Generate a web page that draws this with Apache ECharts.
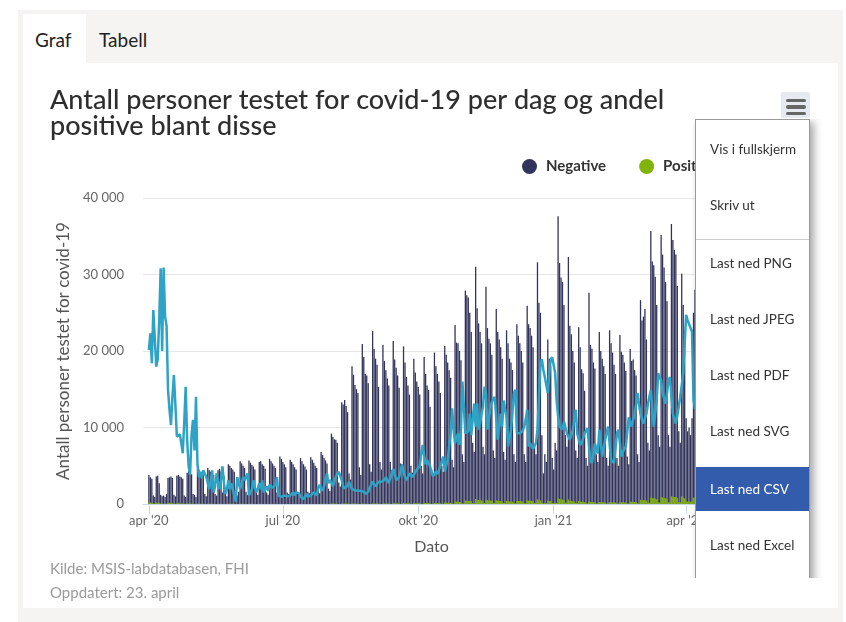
<!DOCTYPE html>
<html><head><meta charset="utf-8">
<script src="https://cdn.jsdelivr.net/npm/echarts@6/dist/echarts.min.js"></script>
<style>
html,body{margin:0;padding:0;background:#fff;width:846px;height:622px;overflow:hidden;font-family:Lato,"Noto Sans",sans-serif;}
.abs{position:absolute;}
#panel{left:18px;top:10px;width:825px;height:612px;background:#f5f4f2;}
#tab{left:23px;top:14px;width:63px;height:49px;background:#fff;}
#content{left:23px;top:63px;width:815px;height:545px;background:#fff;}
.tabtxt{font-size:19px;color:#222;top:28px;line-height:24px;}
#chart{left:0;top:0;width:846px;height:622px;z-index:1;}
.foot{left:50px;font-size:15px;color:#9a9a9a;z-index:2;line-height:20px;}
#btn{left:781px;top:92px;width:29px;height:26px;background:#e6e9f0;border-radius:2px;z-index:2;}
.bar{position:absolute;left:5px;width:20px;height:3.5px;background:#666;border-radius:2px;}
#clip{left:690px;top:119px;width:140px;height:459px;overflow:hidden;z-index:3;}
#menu{position:absolute;left:5px;top:0;width:113px;height:520px;background:#fff;border:1px solid #999;box-shadow:4px 3px 8px rgba(0,0,0,0.35);}
.item{position:absolute;left:0;width:113px;height:44px;line-height:44px;padding-left:14px;box-sizing:border-box;font-size:13.5px;color:#333;white-space:nowrap;}
.div{position:absolute;left:0;width:113px;top:119px;height:1px;background:#ccc;}
</style></head>
<body>
<div id="panel" class="abs"></div>
<div id="tab" class="abs"></div>
<div id="content" class="abs"></div>
<div class="abs tabtxt" style="left:35px">Graf</div>
<div class="abs tabtxt" style="left:99px">Tabell</div>
<div id="chart" class="abs"></div>
<div class="abs foot" style="top:558px">Kilde: MSIS-labdatabasen, FHI</div>
<div class="abs foot" style="top:582px">Oppdatert: 23. april</div>
<div id="btn" class="abs"><div class="bar" style="top:6.5px"></div><div class="bar" style="top:13px"></div><div class="bar" style="top:19.5px"></div></div>
<div id="clip" class="abs"><div id="menu">
<div class="item" style="top:7px">Vis i fullskjerm</div>
<div class="item" style="top:63px">Skriv ut</div>
<div class="div"></div>
<div class="item" style="top:121px">Last ned PNG</div>
<div class="item" style="top:177px">Last ned JPEG</div>
<div class="item" style="top:233px">Last ned PDF</div>
<div class="item" style="top:289px">Last ned SVG</div>
<div class="item" style="top:347px;background:#335cad;color:#fff">Last ned CSV</div>
<div class="item" style="top:403px">Last ned Excel</div>
</div></div>
<script>
// Day 0 = 2020-04-01 (Wednesday); one value per day up to 2021-04-22
const startDate = '2020-04-01';
const tickDays = [0, 91, 183, 275, 365];
const tickLabels = ["apr '20", "jul '20", "okt '20", "jan '21", "apr '21"];
const yTicks = [0, 10000, 20000, 30000, 40000];

const negative = [
 3800, 3500, 3300, 1100, 900,
 3600, 3700, 2700, 1200, 1000, 1100, 900,
 1300, 3400, 3500, 3600, 3400, 1200, 1000,
 3700, 3800, 3600, 3500, 3300, 1100, 900,
 4100, 4300, 4000, 3900, 1300, 1200, 900,
 4600, 4500, 4200, 4100, 3800, 1300, 1000,
 4700, 4400, 4200, 4000, 3800, 1300, 1100,
 4400, 4600, 4200, 1500, 3700, 1400, 1000,
 5200, 5000, 4700, 4500, 4200, 1500, 1100,
 1600, 5600, 5300, 5000, 4700, 1600, 1200,
 5700, 5400, 5100, 4900, 4500, 1500, 1200,
 5500, 5600, 5200, 5000, 4600, 1500, 1200,
 5900, 5600, 5300, 5000, 4700, 1500, 1300,
 6200, 5900, 5500, 5200, 4800, 1500, 1300,
 5800, 5500, 5200, 4800, 4500, 1500, 1300,
 6000, 5600, 5200, 4900, 4500, 1600, 1400,
 6100, 5800, 5400, 5000, 4700, 1700, 1400,
 6800, 6400, 6000, 5700, 5300, 2000, 1700,
 9200, 8800, 8450, 8400, 8000, 2800, 2300,
 13300, 13000, 13600, 12800, 12000, 4000, 3200,
 18000, 16900, 15550, 15000, 14500, 4800, 3800,
 20900, 19200, 17000, 16800, 15800, 5200, 4200,
 22600, 20250, 19000, 18200, 15300, 5500, 4500,
 20800, 18700, 17500, 16400, 15500, 5500, 4400,
 21300, 18900, 17800, 16800, 15200, 5300, 4300,
 20600, 18500, 16600, 15500, 14300, 5000, 4100,
 19000, 17200, 16000, 15300, 14300, 5000, 4000,
 19200, 17000, 15500, 14900, 12700, 4600, 3800,
 19800, 18000, 17000, 16000, 14500, 5000, 4200,
 20650, 19500, 18500, 17500, 16500, 5800, 4800,
 23400, 21100, 21000, 20000, 18800, 6500, 5500,
 27900, 27300, 27000, 25000, 22500, 8000, 6800,
 31000, 25600, 23600, 22500, 21000, 7500, 6500,
 28400, 23000, 21600, 21000, 19500, 7000, 6000,
 25500, 22500, 21500, 20500, 19000, 6800, 5800,
 22700, 21000, 19000, 18500, 17500, 6500, 5500,
 23500, 22000, 21000, 20000, 18500, 6500, 5500,
 25900, 23500, 23000, 22000, 20500, 7500, 6500,
 31600, 26300, 25000, 9000, 4000, 6500, 5500,
 21500, 19000, 18000, 6000, 4500, 8000, 7000,
 37600, 31500, 29600, 29000, 26000, 9000, 7500,
 32300, 23300, 22200, 20000, 18500, 7000, 6000,
 23100, 20500, 17600, 17100, 14800, 6000, 5000,
 27600, 20800, 20300, 18500, 17700, 6500, 5500,
 22500, 20000, 19000, 18000, 17000, 6000, 5000,
 22700, 21000, 19800, 18200, 17000, 6000, 5000,
 22100, 19900, 19500, 18500, 17400, 6200, 5200,
 20250, 18700, 18900, 17500, 16800, 6500, 5500,
 26650, 24000, 24500, 25500, 21500, 8000, 7000,
 35700, 31700, 31200, 29700, 26000, 9000, 7500,
 35150, 32600, 30900, 29000, 26500, 9000, 7500,
 36600, 34500, 33200, 32600, 28500, 9500, 8000,
 30100, 26000, 21700, 11200, 9500, 10000, 9000,
 11200, 25000, 28000, 27000, 25000, 9000, 8000,
 30000, 28000, 27000, 26000, 24000, 8500, 7000,
 29000, 27000, 26000, 25000
];

const positive = [
 200, 180, 170, 70, 50,
 180, 170, 130, 60, 50, 50, 40,
 60, 130, 120, 110, 100, 40, 30,
 100, 90, 80, 70, 60, 25, 20,
 70, 60, 50, 45, 20, 20, 15,
 45, 40, 35, 30, 30, 10, 10,
 40, 35, 30, 30, 25, 10, 8,
 30, 30, 25, 10, 25, 8, 6,
 30, 25, 25, 20, 20, 8, 6,
 10, 25, 20, 20, 18, 6, 5,
 20, 18, 18, 15, 15, 5, 4,
 18, 16, 15, 14, 12, 5, 4,
 15, 15, 14, 12, 12, 4, 4,
 16, 14, 12, 12, 10, 4, 3,
 12, 10, 10, 9, 8, 3, 3,
 14, 12, 11, 10, 9, 4, 3,
 15, 14, 12, 11, 10, 4, 3,
 30, 28, 25, 22, 20, 8, 6,
 60, 55, 50, 45, 40, 15, 12,
 70, 65, 60, 55, 50, 20, 15,
 60, 55, 50, 45, 40, 15, 12,
 50, 45, 40, 38, 35, 12, 10,
 70, 65, 60, 55, 45, 15, 12,
 80, 70, 65, 60, 55, 20, 15,
 110, 100, 90, 85, 80, 25, 20,
 120, 105, 95, 90, 85, 30, 25,
 130, 110, 100, 95, 90, 30, 25,
 160, 130, 120, 110, 100, 35, 30,
 140, 130, 120, 110, 100, 35, 30,
 180, 170, 160, 150, 140, 50, 40,
 330, 300, 280, 260, 240, 90, 70,
 450, 420, 400, 380, 350, 130, 110,
 650, 560, 520, 500, 470, 170, 150,
 600, 500, 470, 450, 420, 150, 130,
 480, 420, 400, 380, 350, 130, 110,
 400, 370, 330, 320, 300, 110, 100,
 420, 390, 370, 350, 330, 120, 100,
 480, 430, 420, 400, 370, 140, 120,
 600, 500, 470, 170, 80, 130, 110,
 450, 400, 380, 130, 100, 170, 150,
 800, 650, 600, 580, 520, 180, 150,
 580, 420, 400, 360, 330, 130, 110,
 380, 330, 290, 280, 240, 100, 80,
 350, 270, 260, 240, 230, 80, 70,
 270, 240, 230, 220, 200, 70, 60,
 250, 230, 220, 200, 190, 70, 55,
 250, 220, 215, 205, 190, 70, 60,
 300, 280, 280, 260, 250, 95, 80,
 550, 500, 510, 530, 450, 170, 150,
 850, 760, 750, 710, 620, 220, 180,
 900, 840, 800, 750, 690, 230, 195,
 1000, 950, 910, 900, 790, 260, 220,
 1000, 860, 720, 370, 310, 330, 300,
 370, 820, 920, 890, 820, 300, 260,
 850, 790, 760, 730, 680, 240, 200,
 750, 700, 670, 650
];

// share of positive tests, percent
const positiveShare = [
 5.03,5.58,4.60,6.34,6.40,4.49,4.73,6.00,7.70,5.00,
 7.73,6.13,5.83,3.73,3.08,2.58,3.50,4.21,3.25,2.20,
 2.23,2.28,2.00,1.66,2.65,3.83,2.08,1.23,0.95,2.28,
 2.75,1.75,3.50,1.30,0.88,1.05,0.83,1.10,1.15,0.88,
 0.68,0.48,0.78,1.10,0.38,0.58,1.00,0.70,0.48,0.80,
 1.23,0.68,0.33,0.48,0.78,0.48,0.68,0.68,0.28,0.08,
 0.88,0.83,0.48,0.68,0.88,0.78,0.78,1.00,0.28,0.33,
 0.48,0.78,0.53,0.38,0.50,0.68,0.48,0.78,0.38,0.48,
 0.58,0.43,0.63,0.58,0.53,0.48,0.63,0.88,0.28,0.33,
 0.23,0.25,0.28,0.28,0.25,0.23,0.28,0.33,0.38,0.28,
 0.38,0.43,0.35,0.25,0.20,0.15,0.25,0.33,0.23,0.18,
 0.28,0.33,0.38,0.33,0.28,0.53,0.63,0.50,0.43,0.58,
 0.80,1.00,0.68,0.78,0.70,0.58,0.73,0.88,0.98,1.05,
 1.10,0.78,0.58,0.50,0.48,0.60,0.73,0.58,0.48,0.43,
 0.45,0.48,0.43,0.38,0.43,0.48,0.40,0.33,0.28,0.40,
 0.53,0.63,0.73,0.65,0.58,0.65,0.73,0.78,0.73,0.68,
 0.78,0.88,0.78,0.68,0.83,1.00,1.15,0.95,0.78,0.83,
 0.88,1.08,1.30,1.05,0.88,0.78,0.88,1.00,0.95,0.88,
 0.95,1.05,1.13,1.18,1.23,1.63,1.93,1.58,1.30,1.44,
 1.33,1.23,1.23,0.90,0.90,1.06,0.98,1.10,1.23,1.40,
 1.55,1.06,1.25,1.44,1.88,2.31,3.13,2.43,1.98,1.98,
 2.31,1.93,2.43,4.00,3.18,2.31,2.35,2.38,2.95,2.25,
 2.75,3.28,2.53,3.28,2.43,2.63,2.95,3.18,3.83,3.63,
 2.43,2.75,3.18,3.33,3.43,3.50,2.83,2.10,2.50,2.95,
 2.53,3.38,3.10,2.83,1.88,2.13,2.43,3.00,3.63,3.73,
 2.31,2.25,2.31,2.31,2.40,2.53,2.75,3.08,1.88,1.98,
 1.88,1.80,1.75,2.00,2.43,3.50,4.60,4.73,4.38,4.15,
 3.88,3.63,4.25,4.73,4.80,4.85,4.28,3.38,2.88,2.53,
 2.48,2.43,2.70,2.50,2.31,2.20,2.10,2.25,2.43,2.75,
 3.08,2.31,2.10,1.93,2.00,2.15,2.31,2.40,2.48,1.88,
 1.44,1.33,1.63,1.98,1.80,1.65,2.43,2.00,1.55,1.83,
 2.10,2.33,2.53,1.98,1.44,1.38,1.33,1.83,2.31,2.43,
 2.00,1.55,1.70,1.80,1.88,2.35,2.83,2.68,2.53,2.75,
 2.95,3.25,3.63,3.25,2.95,2.75,2.63,2.80,2.95,3.25,
 3.50,3.73,3.13,2.53,2.95,3.38,4.28,4.13,4.05,3.63,
 3.45,3.28,3.63,4.05,4.15,3.50,2.95,2.75,2.63,2.88,
 3.18,3.50,3.88,4.28,5.25,6.18,6.00,5.88,5.75,5.63,
 3.40,3.10,3.60,4.00,3.80,3.50,3.00,2.80,3.20,3.60,
 3.90,3.70,3.40,3.00,3.30,3.50,3.20
];

function fmtNum(v){ return String(v).replace(/\B(?=(\d{3})+(?!\d))/g, '\u00a0'); }

const chart = echarts.init(document.getElementById('chart'), null, {renderer:'canvas'});
const FONT = 'Lato';
chart.setOption({
  animation: false,
  backgroundColor: 'transparent',
  title: {
    text: 'Antall personer testet for covid-19 per dag og andel\npositive blant disse',
    left: 50, top: 87, padding: 0,
    textStyle: {fontFamily: FONT, fontSize: 27, fontWeight: 500, color: '#2e2e2e', lineHeight: 26}
  },
  legend: {
    data: ['Negative', 'Positive'],
    left: 522, top: 159, padding: 0,
    icon: 'circle', itemWidth: 15, itemHeight: 15, itemGap: 33,
    textStyle: {fontFamily: FONT, fontSize: 15, fontWeight: 'bold', color: '#333', padding: [0, 0, 0, 4]}
  },
  grid: {left: 143, right: 126, top: 198, bottom: 118},
  xAxis: {
    type: 'value', min: -4, max: 388,
    name: 'Dato', nameLocation: 'middle', nameGap: 35,
    nameTextStyle: {fontFamily: FONT, fontSize: 16, color: '#555'},
    axisLine: {show: true, lineStyle: {color: '#ccd6eb', width: 1}},
    axisTick: {show: true, customValues: tickDays, length: 10, lineStyle: {color: '#ccd6eb'}},
    axisLabel: {customValues: tickDays, formatter: v => tickLabels[tickDays.indexOf(v)] || '', margin: 10,
      fontFamily: FONT, fontSize: 13, color: '#666'},
    splitLine: {show: false}
  },
  yAxis: [{
    type: 'value', min: 0, max: 40000, interval: 10000,
    name: 'Antall personer testet for covid-19', nameLocation: 'middle', nameGap: 70,
    nameTextStyle: {fontFamily: FONT, fontSize: 17, color: '#555'},
    axisLine: {show: false}, axisTick: {show: false},
    axisLabel: {margin: 19, fontFamily: FONT, fontSize: 13, color: '#666', formatter: v => fmtNum(v)},
    splitLine: {lineStyle: {color: '#e6e6e6', width: 1}}
  }, {
    type: 'value', min: 0, max: 10, show: false
  }],
  series: [{
    name: 'Negative', type: 'bar', stack: 'tests', barWidth: 1.3, z: 2,
    itemStyle: {color: '#32345b'},
    data: negative.map((v, i) => [i, v])
  }, {
    name: 'Positive', type: 'bar', stack: 'tests', barWidth: 1.6, z: 3,
    itemStyle: {color: '#80b40a'},
    data: positive.map((v, i) => [i, v])
  }, {
    name: 'Andel positive', type: 'line', yAxisIndex: 1, showSymbol: false, z: 5,
    lineStyle: {color: '#2ea3c5', width: 2.5}, itemStyle: {color: '#2ea3c5'},
    data: positiveShare.map((v, i) => [i, v])
  }]
});
</script>
</body></html>
